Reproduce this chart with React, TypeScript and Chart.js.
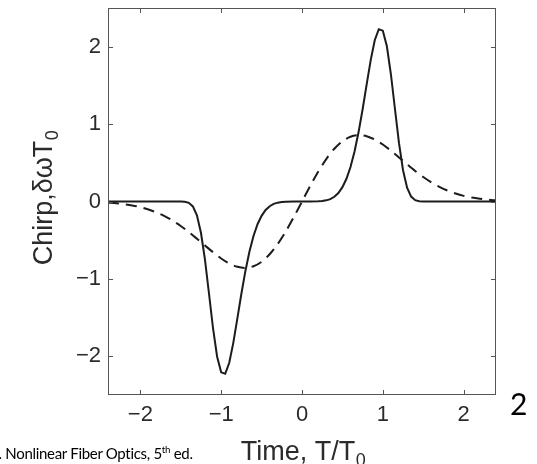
import React, { useEffect, useRef } from "react";
import { Chart, registerables } from "chart.js";

Chart.register(...registerables);

// Axis ticks
const xTickValues = [-2, -1, 0, 1, 2];
const yTickValues = [-2, -1, 0, 1, 2];

// Solid curve (super-Gaussian pulse chirp)
const solidTime = [
  -2.4, -1.6, -1.55, -1.5, -1.45, -1.4, -1.35, -1.3, -1.25, -1.2, -1.15, -1.1, -1.05, -1.0, -0.95,
  -0.9, -0.85, -0.8, -0.75, -0.7, -0.65, -0.6, -0.55, -0.5, -0.45, -0.4, -0.35, -0.3, -0.25, -0.2,
  -0.1, 0, 0.1, 0.2, 0.25, 0.3, 0.35, 0.4, 0.45, 0.5, 0.55, 0.6, 0.65, 0.7, 0.75, 0.8, 0.85, 0.9,
  0.95, 1.0, 1.05, 1.1, 1.15, 1.2, 1.25, 1.3, 1.35, 1.4, 1.45, 1.5, 1.55, 1.6, 2.4,
];
const solidChirp = [
  0, 0, 0, -0.0005, -0.0035, -0.017, -0.063, -0.178, -0.404, -0.754, -1.195, -1.644, -2.005, -2.207, -2.226,
  -2.083, -1.826, -1.513, -1.192, -0.897, -0.646, -0.445, -0.294, -0.185, -0.11, -0.061, -0.031, -0.015, -0.006, -0.002,
  0, 0, 0, 0.002, 0.006, 0.015, 0.031, 0.061, 0.11, 0.185, 0.294, 0.445, 0.646, 0.897, 1.192, 1.513, 1.826, 2.083,
  2.226, 2.207, 2.005, 1.644, 1.195, 0.754, 0.404, 0.178, 0.063, 0.017, 0.0035, 0.0005, 0, 0, 0,
];

// Dashed curve (Gaussian pulse chirp)
const dashedTime = [
  -2.4, -2.3, -2.2, -2.1, -2.0, -1.9, -1.8, -1.7, -1.6, -1.5, -1.4, -1.3, -1.2, -1.1, -1.0, -0.9,
  -0.8, -0.7, -0.6, -0.5, -0.4, -0.3, -0.2, -0.1, 0, 0.1, 0.2, 0.3, 0.4, 0.5, 0.6, 0.7, 0.8, 0.9,
  1.0, 1.1, 1.2, 1.3, 1.4, 1.5, 1.6, 1.7, 1.8, 1.9, 2.0, 2.1, 2.2, 2.3, 2.4,
];
const dashedChirp = [
  -0.015, -0.023, -0.035, -0.051, -0.073, -0.103, -0.141, -0.189, -0.247, -0.316, -0.394, -0.48, -0.569, -0.656, -0.736, -0.801,
  -0.844, -0.858, -0.837, -0.779, -0.682, -0.548, -0.384, -0.198, 0, 0.198, 0.384, 0.548, 0.682, 0.779, 0.837, 0.858, 0.844, 0.801,
  0.736, 0.656, 0.569, 0.48, 0.394, 0.316, 0.247, 0.189, 0.141, 0.103, 0.073, 0.051, 0.035, 0.023, 0.015,
];

// Axis titles (main text + subscript)
const xTitleMain = "Time, T/T";
const xTitleSub = "0";
const yTitleMain = "Chirp,\u03b4\u03c9T";
const yTitleSub = "0";

const fontFamily = "'Liberation Sans', Arial, Helvetica, sans-serif";
const textColor = "#2b2b2b";

const fmt = (v: number) => (v < 0 ? "\u2212" + Math.abs(v) : String(v));

const framePlugin = {
  id: "matlabFrame",
  afterDatasetsDraw(chart: any) {
    const { ctx, chartArea: a, scales } = chart;
    ctx.save();
    ctx.strokeStyle = "#555";
    ctx.lineWidth = 1;
    ctx.strokeRect(a.left + 0.5, a.top + 0.5, a.right - a.left - 1, a.bottom - a.top - 1);
    const L = 5;
    ctx.beginPath();
    for (const v of xTickValues) {
      const px = Math.round(scales.x.getPixelForValue(v)) + 0.5;
      ctx.moveTo(px, a.bottom);
      ctx.lineTo(px, a.bottom - L);
      ctx.moveTo(px, a.top);
      ctx.lineTo(px, a.top + L);
    }
    for (const v of yTickValues) {
      const py = Math.round(scales.y.getPixelForValue(v)) + 0.5;
      ctx.moveTo(a.left, py);
      ctx.lineTo(a.left + L, py);
      ctx.moveTo(a.right, py);
      ctx.lineTo(a.right - L, py);
    }
    ctx.stroke();
    ctx.restore();
  },
};

const titlePlugin = {
  id: "subscriptTitles",
  afterDraw(chart: any) {
    const { ctx, chartArea: a } = chart;
    const mainFont = `27px ${fontFamily}`;
    const subFont = `18px ${fontFamily}`;
    const subDrop = 6;
    const drawTitle = (main: string, sub: string, cx: number) => {
      ctx.font = mainFont;
      const w1 = ctx.measureText(main).width;
      ctx.font = subFont;
      const w2 = ctx.measureText(sub).width;
      const x0 = cx - (w1 + w2) / 2;
      ctx.font = mainFont;
      ctx.fillText(main, x0, 0);
      ctx.font = subFont;
      ctx.fillText(sub, x0 + w1 + 0.5, subDrop);
    };
    ctx.save();
    ctx.fillStyle = textColor;
    ctx.textBaseline = "alphabetic";
    ctx.textAlign = "left";
    // x title
    ctx.save();
    ctx.translate(0, a.bottom + 64.5);
    drawTitle(xTitleMain, xTitleSub, (a.left + a.right) / 2 + 1);
    ctx.restore();
    // y title
    ctx.save();
    ctx.translate(a.left - 56, (a.top + a.bottom) / 2 - 3.5);
    ctx.rotate(-Math.PI / 2);
    drawTitle(yTitleMain, yTitleSub, 0);
    ctx.restore();
    ctx.restore();
  },
};

export default function App() {
  const ref = useRef<HTMLCanvasElement | null>(null);

  useEffect(() => {
    if (!ref.current) return;
    const chart = new Chart(ref.current, {
      type: "line",
      data: {
        datasets: [
          {
            data: solidTime.map((t, i) => ({ x: t, y: solidChirp[i] })),
            borderColor: "#1c1c1c",
            borderWidth: 2,
            pointRadius: 0,
            tension: 0,
            fill: false,
          },
          {
            data: dashedTime.map((t, i) => ({ x: t, y: dashedChirp[i] })),
            borderColor: "#1c1c1c",
            borderWidth: 2,
            borderDash: [11, 7],
            pointRadius: 0,
            tension: 0.3,
            fill: false,
          },
        ],
      },
      options: {
        responsive: false,
        animation: false,
        devicePixelRatio: 1,
        layout: { padding: { left: 0, right: 41, top: 8, bottom: 0 } },
        plugins: { legend: { display: false }, tooltip: { enabled: false } },
        scales: {
          x: {
            type: "linear",
            min: -2.4,
            max: 2.4,
            grid: { display: false, drawTicks: false },
            border: { display: false },
            afterBuildTicks: (s: any) => {
              s.ticks = xTickValues.map((v) => ({ value: v }));
            },
            afterFit: (s: any) => {
              s.height = 69;
              s.paddingLeft = 0;
              s.paddingRight = 0;
            },
            ticks: {
              padding: 7,
              color: textColor,
              font: { family: fontFamily, size: 22 },
              maxRotation: 0,
              autoSkip: false,
              callback: (v: any) => fmt(Number(v)),
            },
            title: { display: false },
          },
          y: {
            type: "linear",
            min: -2.5,
            max: 2.5,
            grid: { display: false, drawTicks: false },
            border: { display: false },
            afterBuildTicks: (s: any) => {
              s.ticks = yTickValues.map((v) => ({ value: v }));
            },
            afterFit: (s: any) => {
              s.width = 108;
              s.paddingTop = 0;
              s.paddingBottom = 0;
            },
            ticks: {
              padding: 7,
              color: textColor,
              font: { family: fontFamily, size: 22 },
              autoSkip: false,
              callback: (v: any) => fmt(Number(v)),
            },
            title: { display: false },
          },
        },
      },
      plugins: [framePlugin, titlePlugin],
    });
    return () => chart.destroy();
  }, []);

  return (
    <div style={{ position: "absolute", left: 0, top: 0, width: 537, height: 464, background: "#fff", overflow: "hidden" }}>
      <canvas ref={ref} width={537} height={464} style={{ display: "block" }} />
      <div
        style={{
          position: "absolute",
          left: 510,
          top: 388,
          fontFamily: "Lato, 'Open Sans', sans-serif",
          fontSize: 30,
          lineHeight: 1,
          color: "#000",
          whiteSpace: "nowrap",
        }}
      >
        2
      </div>
      <div
        style={{
          position: "absolute",
          left: -1.5,
          top: 446,
          fontFamily: "Lato, 'Open Sans', sans-serif",
          fontSize: 15,
          letterSpacing: -0.3,
          lineHeight: 1,
          color: "#000",
          whiteSpace: "nowrap",
        }}
      >
        . Nonlinear Fiber Optics, 5
        <sup style={{ fontSize: "0.65em", verticalAlign: "super", lineHeight: 0 }}>th</sup> ed.
      </div>
    </div>
  );
}
